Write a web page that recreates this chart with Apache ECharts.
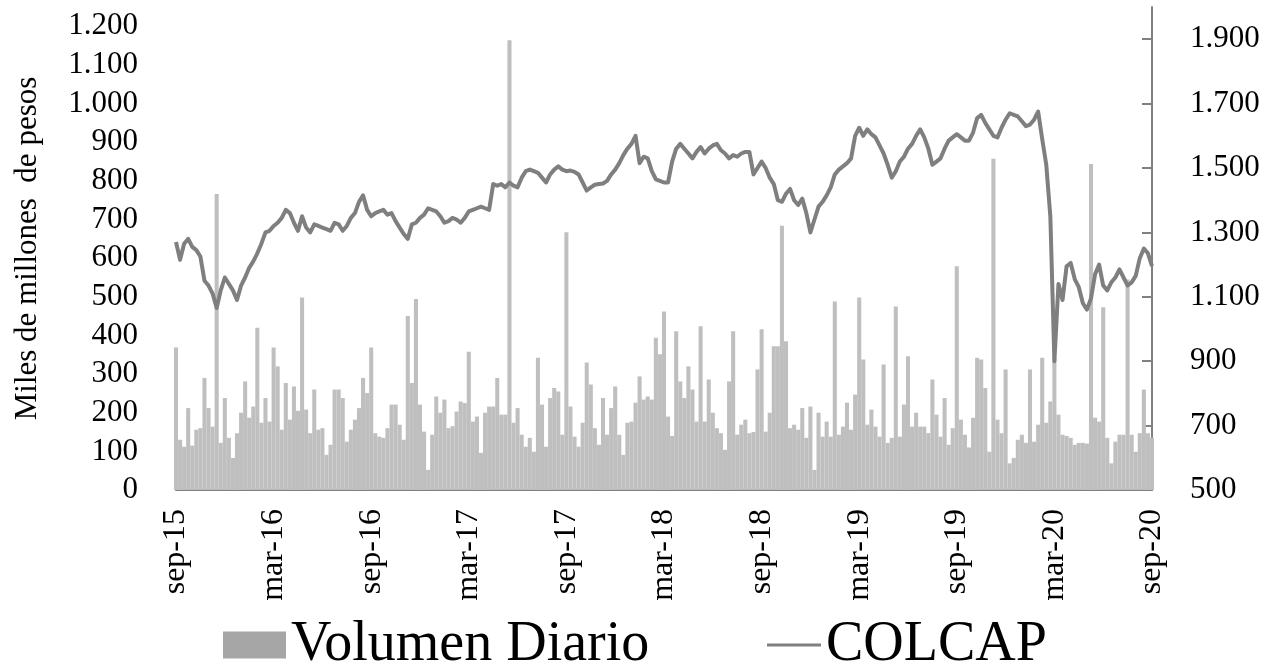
<!DOCTYPE html>
<html>
<head>
<meta charset="utf-8">
<script src="https://cdn.jsdelivr.net/npm/echarts@6/dist/echarts.min.js"></script>
<style>
  html, body { margin: 0; padding: 0; background: #fff; }
  #chart { width: 1284px; height: 666px; }
</style>
</head>
<body>
<div id="chart"></div>
<script>
// etiquetas del eje x (una cada 24 semanas)
var tickLabels = ['sep-15', 'mar-16', 'sep-16', 'mar-17', 'sep-17', 'mar-18', 'sep-18', 'mar-19', 'sep-19', 'mar-20', 'sep-20'];

// COLCAP semanal
var colcap = [
  1270,1215,1265,1280,1255,1245,1225,1150,1135,1110,
  1065,1120,1160,1140,1120,1090,1135,1160,1190,1210,
  1235,1265,1300,1305,1320,1330,1345,1370,1360,1330,
  1305,1350,1315,1300,1325,1320,1315,1310,1305,1330,
  1325,1305,1320,1345,1360,1395,1415,1370,1350,1360,
  1365,1370,1355,1360,1335,1315,1295,1280,1325,1330,
  1345,1355,1375,1370,1365,1350,1330,1335,1345,1340,
  1330,1345,1365,1370,1375,1380,1375,1370,1450,1445,
  1450,1440,1455,1445,1440,1470,1490,1495,1490,1485,
  1470,1455,1480,1495,1505,1495,1490,1492,1488,1480,
  1455,1430,1440,1448,1450,1452,1460,1480,1495,1515,
  1540,1560,1575,1600,1515,1535,1530,1490,1465,1460,
  1455,1455,1520,1560,1575,1560,1545,1530,1550,1565,
  1545,1560,1570,1575,1555,1545,1530,1540,1535,1545,
  1550,1550,1480,1500,1520,1500,1470,1450,1400,1395,
  1420,1435,1400,1385,1405,1360,1300,1340,1380,1395,
  1415,1440,1480,1495,1505,1515,1530,1600,1625,1600,
  1620,1605,1595,1570,1545,1510,1470,1490,1520,1535,
  1560,1575,1600,1620,1595,1560,1510,1520,1530,1560,
  1585,1595,1605,1595,1585,1585,1610,1655,1665,1640,
  1620,1600,1595,1625,1650,1670,1665,1660,1645,1630,
  1635,1650,1675,1590,1510,1350,900,1140,1090,1195,
  1205,1155,1130,1080,1060,1095,1170,1200,1135,1120,
  1145,1160,1185,1160,1135,1145,1165,1220,1250,1235,
  1195
];

// volumen diario (miles de millones de pesos), agrupado por semana
var volumen = [
  369,130,112,212,115,156,160,290,212,164,
  766,122,238,135,83,147,200,281,187,216,
  420,174,238,177,369,320,156,277,182,268,
  205,498,208,147,260,156,160,91,117,260,
  260,238,125,156,182,212,290,251,369,147,
  138,135,160,221,221,169,130,450,277,494,
  221,151,52,143,242,200,234,160,165,203,
  229,225,358,177,190,96,200,216,216,290,
  195,195,1164,174,212,143,112,135,99,342,
  221,112,238,264,255,143,667,216,138,112,
  174,330,273,160,117,238,143,212,268,143,
  91,174,177,226,294,234,242,234,394,351,
  462,190,140,411,281,238,320,260,177,424,
  177,286,200,160,147,104,281,411,143,169,
  182,147,150,312,416,151,200,372,372,684,
  385,160,169,156,212,135,216,52,200,138,
  177,138,488,143,164,226,156,247,498,338,
  169,208,164,138,325,122,135,475,138,221,
  346,164,200,164,164,147,286,195,138,238,
  117,160,579,182,143,110,187,342,338,264,
  99,857,182,147,312,69,83,130,143,122,
  312,125,169,342,174,229,342,195,143,140,
  135,117,122,122,120,844,187,177,473,135,
  69,125,143,143,545,143,99,147,260,147,
  135
];

var categories = colcap.map(function (v, i) { return i; });

function miles(v) {
  return String(v).replace(/\B(?=(\d{3})+(?!\d))/g, '.');
}

var chart = echarts.init(document.getElementById('chart'), null, { renderer: 'canvas' });
var fuente = 'Liberation Serif';

chart.setOption({
  animation: false,
  textStyle: { fontFamily: fuente, color: '#000' },
  grid: { left: 176, right: 132, top: 7, bottom: 176 },
  legend: [
    {
      left: 218,
      top: 612,
      itemWidth: 63,
      itemHeight: 27,
      itemGap: 8,
      textStyle: { fontFamily: fuente, fontSize: 56, color: '#000' },
      data: [{ name: 'Volumen Diario', icon: 'rect', itemStyle: { color: '#a6a6a6' } }]
    },
    {
      left: 762,
      top: 612,
      itemWidth: 54,
      itemHeight: 3,
      textStyle: { fontFamily: fuente, fontSize: 56, color: '#000' },
      data: [{ name: 'COLCAP', icon: 'rect', itemStyle: { color: '#808080' } }]
    }
  ],
  xAxis: {
    type: 'category',
    data: categories,
    boundaryGap: false,
    axisLine: { lineStyle: { color: '#808080', width: 2 } },
    axisTick: { inside: true, length: 9, interval: 23, lineStyle: { color: '#808080', width: 2 } },
    axisLabel: {
      interval: 23,
      rotate: 90,
      margin: 19,
      fontFamily: fuente,
      fontSize: 32,
      color: '#000',
      formatter: function (v, idx) { return tickLabels[idx / 24]; }
    },
    splitLine: { show: false }
  },
  yAxis: [
    {
      type: 'value',
      min: 0,
      max: 1250,
      interval: 100,
      name: 'Miles de millones  de pesos',
      nameLocation: 'middle',
      nameGap: 133,
      nameTextStyle: { fontFamily: fuente, fontSize: 31, color: '#000' },
      axisLine: { show: false },
      axisTick: { show: false },
      splitLine: { show: false },
      axisLabel: {
        showMaxLabel: false,
        margin: 38,
        fontFamily: fuente,
        fontSize: 31,
        color: '#000',
        formatter: miles
      }
    },
    {
      type: 'value',
      min: 500,
      max: 2000,
      interval: 200,
      position: 'right',
      axisLine: { show: true, lineStyle: { color: '#808080', width: 2 } },
      axisTick: { show: true, inside: true, length: 10, lineStyle: { color: '#808080', width: 2 } },
      splitLine: { show: false },
      axisLabel: {
        showMaxLabel: false,
        margin: 38,
        fontFamily: fuente,
        fontSize: 31,
        color: '#000',
        formatter: miles
      }
    }
  ],
  series: [
    {
      name: 'Volumen Diario',
      type: 'bar',
      yAxisIndex: 0,
      data: volumen,
      barCategoryGap: '0%',
      itemStyle: { color: '#bfbfbf' }
    },
    {
      name: 'COLCAP',
      type: 'line',
      yAxisIndex: 1,
      data: colcap,
      symbol: 'none',
      lineStyle: { color: '#7f7f7f', width: 4, join: 'round' },
      itemStyle: { color: '#7f7f7f' }
    }
  ]
});
</script>
</body>
</html>
